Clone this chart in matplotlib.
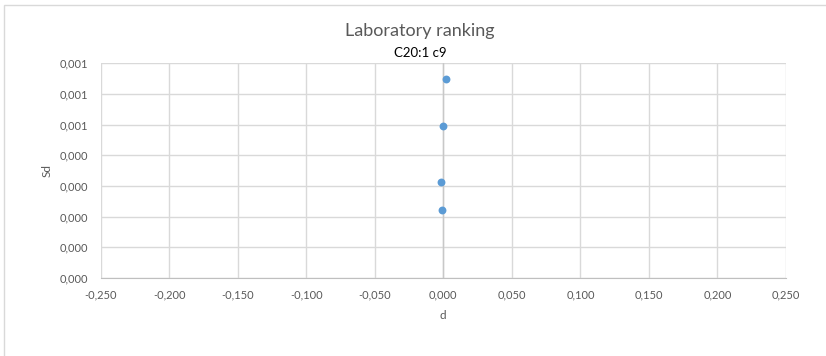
from decimal import Decimal, ROUND_HALF_UP

import matplotlib
matplotlib.use("Agg")
import matplotlib.pyplot as plt
from matplotlib.patches import Rectangle
from matplotlib.ticker import FuncFormatter, MultipleLocator

# values
d_values = [0.0017, -0.0002, -0.0015, -0.0010]
sd_values = [0.000649, 0.000497, 0.000314, 0.000222]

title = "Laboratory ranking"
subtitle = "C20:1 c9"
x_label = "d"
y_label = "Sd"


def comma_fmt(value, _pos=None):
    q = Decimal(str(round(value, 8))).quantize(Decimal("0.001"), rounding=ROUND_HALF_UP)
    if q == 0:
        q = abs(q)
    return f"{q}".replace(".", ",")


plt.rcParams["font.family"] = ["Lato", "DejaVu Sans"]

fig = plt.figure(figsize=(8.26, 3.56), dpi=100)
ax = fig.add_axes([100.6 / 826, 1 - 278 / 356, (786 - 100.6) / 826, (278 - 63.3) / 356])

# chart border like the spreadsheet frame
fig.patches.append(Rectangle((4 / 826, -0.05), 1.0, 1 - 5 / 356 + 0.05,
                             transform=fig.transFigure, fill=False,
                             edgecolor="#d9d9d9", linewidth=1.0))

ax.axvline(0, color="#c8c8c8", linewidth=1.0, zorder=1)
ax.scatter(d_values, sd_values, s=32, color="#5b9bd5", zorder=3, linewidths=0)

ax.set_xlim(-0.25, 0.25)
ax.set_ylim(0, 0.0007)
ax.xaxis.set_major_locator(MultipleLocator(0.05))
ax.yaxis.set_major_locator(MultipleLocator(0.0001))
ax.xaxis.set_major_formatter(FuncFormatter(comma_fmt))
ax.yaxis.set_major_formatter(FuncFormatter(comma_fmt))

ax.grid(True, color="#d9d9d9", linewidth=1.0, zorder=0)
ax.set_axisbelow(True)
for side in ("top", "right", "left"):
    ax.spines[side].set_visible(False)
ax.spines["bottom"].set_color("#bfbfbf")
ax.tick_params(length=0, labelsize=8, labelcolor="#595959")
ax.tick_params(axis="x", pad=8)
ax.tick_params(axis="y", pad=9)

ax.set_xlabel(x_label, fontsize=8.5, color="#595959", labelpad=7)
ax.set_ylabel(y_label, fontsize=8.5, color="#595959", labelpad=5)

fig.text(420 / 826, 1 - 31 / 356, title, ha="center", va="center", fontsize=13, color="#595959")
fig.text(420 / 826, 1 - 53 / 356, subtitle, ha="center", va="center", fontsize=9.5, color="black")

fig.savefig("out.png", dpi=100)
